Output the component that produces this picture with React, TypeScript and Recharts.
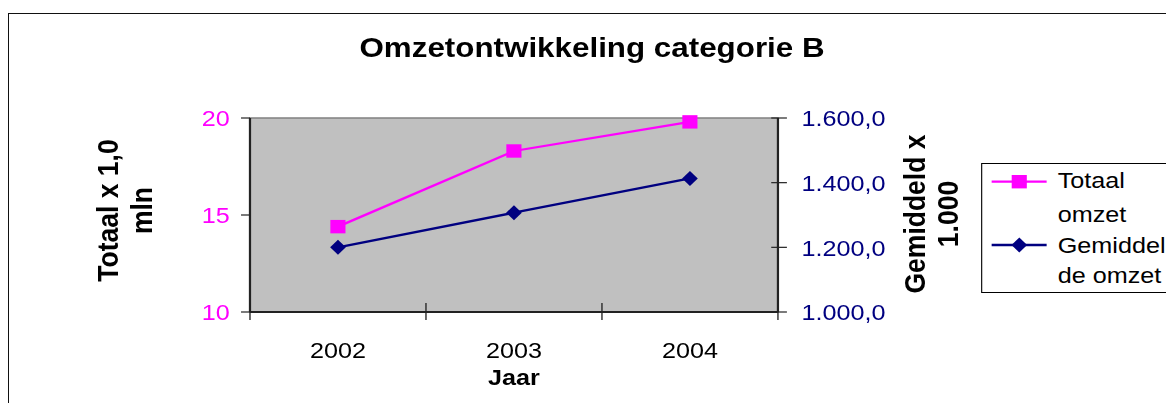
import React from "react";
import { LineChart, Line, XAxis, YAxis, ReferenceArea, Legend } from "recharts";

// values
const years = [2002, 2003, 2004];
const totaalOmzet = [14.4, 18.3, 19.8];
const gemiddeldeOmzet = [1200, 1307, 1413];
const totaalTicks = [10, 15, 20];
const gemiddeldTicks = [1000, 1200, 1400, 1600];

const seriesNames = ["Totaal omzet", "Gemiddelde omzet"];
const legendLines = [
  ["Totaal", "omzet"],
  ["Gemiddel", "de omzet"],
];
const titleText = "Omzetontwikkeling categorie B";
const leftTitle = ["Totaal x 1,0", "mln"];
const rightTitle = ["Gemiddeld x", "1.000"];
const xTitle = "Jaar";

const PINK = "#ff00ff";
const NAVY = "#000080";
const AXIS = "#222";
const FONT = '"Liberation Sans", Arial, sans-serif';
// the reference is a little wider than tall, so the whole chart is stretched
const STRETCH = 1.12;
const W = 1160;
const H = 403;

const data = years.map((jaar, i) => ({
  jaar,
  totaal: totaalOmzet[i],
  gemiddeld: gemiddeldeOmzet[i],
}));
const xDomain = [years[0] - 0.5, years[years.length - 1] + 0.5];
const xTicks = [xDomain[0], ...years.flatMap((y) => [y, y + 0.5])];

function fmtNl(v: number) {
  const [i, d] = v.toFixed(1).split(".");
  return i.replace(/\B(?=(\d{3})+(?!\d))/g, ".") + "," + d;
}

const XTick = (p: any) => {
  const v = p.payload.value;
  if (!Number.isInteger(v)) {
    return <line x1={p.x} x2={p.x} y1={p.y - 9} y2={p.y + 8} stroke={AXIS} strokeWidth={1.2} />;
  }
  return (
    <text x={p.x} y={p.y + 45.7} textAnchor="middle" fontSize={22.5} fontFamily={FONT} fill="#000">
      {v}
    </text>
  );
};

const GemTick = (p: any) => (
  <g>
    <line x1={p.x - 6} x2={p.x + 8} y1={p.y} y2={p.y} stroke={AXIS} strokeWidth={1.2} />
    <text x={p.x + 21} y={p.y + 8.5} fontSize={22.5} fontFamily={FONT} fill={NAVY}>
      {fmtNl(p.payload.value)}
    </text>
  </g>
);

const SquareDot = (p: any) => {
  if (p.cx == null || p.cy == null) return null;
  return <rect key={`sq-${p.index}`} x={p.cx - 6.8} y={p.cy - 6.7} width={13.5} height={13.4} fill={PINK} />;
};

const DiamondDot = (p: any) => {
  if (p.cx == null || p.cy == null) return null;
  const { cx, cy } = p;
  return (
    <path
      key={`dm-${p.index}`}
      d={`M${cx},${cy - 7.5}L${cx + 7},${cy}L${cx},${cy + 7.5}L${cx - 7},${cy}Z`}
      fill={NAVY}
    />
  );
};

function RotatedTitle({ cx, cy, lines, gap }: { cx: number; cy: number; lines: string[]; gap: number }) {
  return (
    <g>
      {lines.map((t, i) => {
        const bx = cx + i * gap;
        return (
          <text
            key={t}
            x={bx}
            y={cy}
            transform={`rotate(-90, ${bx}, ${cy})`}
            textAnchor="middle"
            fontSize={26.5}
            fontWeight="bold"
            fontFamily={FONT}
            fill="#000"
          >
            {t}
          </text>
        );
      })}
    </g>
  );
}

const LeftTitle = (props: any) => {
  const vb = props.viewBox ?? { x: 163, y: 118, width: 60, height: 194 };
  return <RotatedTitle cx={vb.x - 57.6} cy={vb.y + vb.height / 2 - 4.5} lines={leftTitle} gap={30.3} />;
};

const RightTitle = (props: any) => {
  const vb = props.viewBox ?? { x: 694.6, y: 118, width: 90, height: 194 };
  return <RotatedTitle cx={vb.x + 131.4} cy={vb.y + vb.height / 2 - 1} lines={rightTitle} gap={29.4} />;
};

const XTitle = (props: any) => {
  const vb = props.viewBox ?? { x: 223.2, y: 312, width: 471.4, height: 91 };
  return (
    <text
      x={vb.x + vb.width / 2}
      y={vb.y + 73}
      textAnchor="middle"
      fontSize={22.5}
      fontWeight="bold"
      fontFamily={FONT}
      fill="#000"
    >
      {xTitle}
    </text>
  );
};

function LegendBox() {
  const rows = [
    { color: PINK, shape: "square", lineY: 18.7, base: [24.7, 58.7] },
    { color: NAVY, shape: "diamond", lineY: 82, base: [90.3, 120.3] },
  ];
  return (
    <svg width={280} height={130} style={{ display: "block" }}>
      <rect x={0.5} y={0.5} width={279} height={129} fill="#fff" stroke="#000" strokeWidth={1} />
      {rows.map((r, i) => (
        <g key={seriesNames[i]}>
          <line x1={9.4} x2={58.5} y1={r.lineY} y2={r.lineY} stroke={r.color} strokeWidth={2.3} />
          {r.shape === "square" ? (
            <rect x={34.1 - 6.8} y={r.lineY - 6.7} width={13.5} height={13.4} fill={r.color} />
          ) : (
            <path
              d={`M34.1,${r.lineY - 7.5}L41.1,${r.lineY}L34.1,${r.lineY + 7.5}L27.1,${r.lineY}Z`}
              fill={r.color}
            />
          )}
          {legendLines[i].map((t, j) => (
            <text key={t} x={68.4} y={r.base[j]} fontSize={22.5} fontFamily={FONT} fill="#000">
              {t}
            </text>
          ))}
        </g>
      ))}
    </svg>
  );
}

export default function App() {
  return (
    <div
      style={{
        position: "fixed",
        left: 0,
        top: 0,
        width: 1166,
        height: 403,
        overflow: "hidden",
        background: "#fff",
      }}
    >
      <div
        style={{
          position: "absolute",
          left: 8,
          top: 13,
          width: 2000,
          height: 1000,
          borderLeft: "1px solid #111",
          borderTop: "1px solid #111",
        }}
      />
      <div
        style={{
          position: "absolute",
          left: 0,
          top: 0,
          width: W,
          height: H,
          transform: `scaleX(${STRETCH})`,
          transformOrigin: "0 0",
          fontFamily: FONT,
        }}
      >
        <LineChart width={W} height={H} data={data} margin={{ top: 118, right: 375.4, bottom: 0, left: 163.2 }}>
          <ReferenceArea
            yAxisId="tot"
            x1={xDomain[0]}
            x2={xDomain[1]}
            y1={totaalTicks[0]}
            y2={totaalTicks[totaalTicks.length - 1]}
            fill="#c0c0c0"
            fillOpacity={1}
            stroke="#808080"
            strokeWidth={1.5}
          />
          <XAxis
            dataKey="jaar"
            type="number"
            domain={xDomain}
            ticks={xTicks}
            interval={0}
            height={91}
            tickSize={0}
            tickMargin={0}
            tickLine={false}
            tick={XTick}
            axisLine={{ stroke: AXIS, strokeWidth: 2 }}
            label={{ content: XTitle }}
          />
          <YAxis
            yAxisId="tot"
            orientation="left"
            width={60}
            domain={[totaalTicks[0], totaalTicks[totaalTicks.length - 1]]}
            ticks={totaalTicks}
            interval={0}
            tickSize={8}
            tickMargin={10}
            tickLine={{ stroke: AXIS, strokeWidth: 1.2 }}
            tick={{ fill: PINK, fontSize: 22.5, fontFamily: FONT }}
            axisLine={{ stroke: AXIS, strokeWidth: 2 }}
            label={{ content: LeftTitle }}
          />
          <YAxis
            yAxisId="gem"
            orientation="right"
            width={90}
            domain={[gemiddeldTicks[0], gemiddeldTicks[gemiddeldTicks.length - 1]]}
            ticks={gemiddeldTicks}
            interval={0}
            tickSize={0}
            tickMargin={0}
            tickLine={false}
            tick={GemTick}
            axisLine={{ stroke: AXIS, strokeWidth: 2 }}
            label={{ content: RightTitle }}
          />
          <Line
            yAxisId="tot"
            dataKey="totaal"
            name={seriesNames[0]}
            stroke={PINK}
            strokeWidth={2.3}
            dot={SquareDot}
            activeDot={false}
            isAnimationActive={false}
          />
          <Line
            yAxisId="gem"
            dataKey="gemiddeld"
            name={seriesNames[1]}
            stroke={NAVY}
            strokeWidth={2.3}
            dot={DiamondDot}
            activeDot={false}
            isAnimationActive={false}
          />
          <Legend
            layout="horizontal"
            verticalAlign="middle"
            align="center"
            content={() => <LegendBox />}
            wrapperStyle={{ left: 876, top: 163, width: 280, height: 130 }}
          />
          <text x={528.6} y={57.5} textAnchor="middle" fontSize={28} fontWeight="bold" fontFamily={FONT} fill="#000">
            {titleText}
          </text>
        </LineChart>
      </div>
    </div>
  );
}
